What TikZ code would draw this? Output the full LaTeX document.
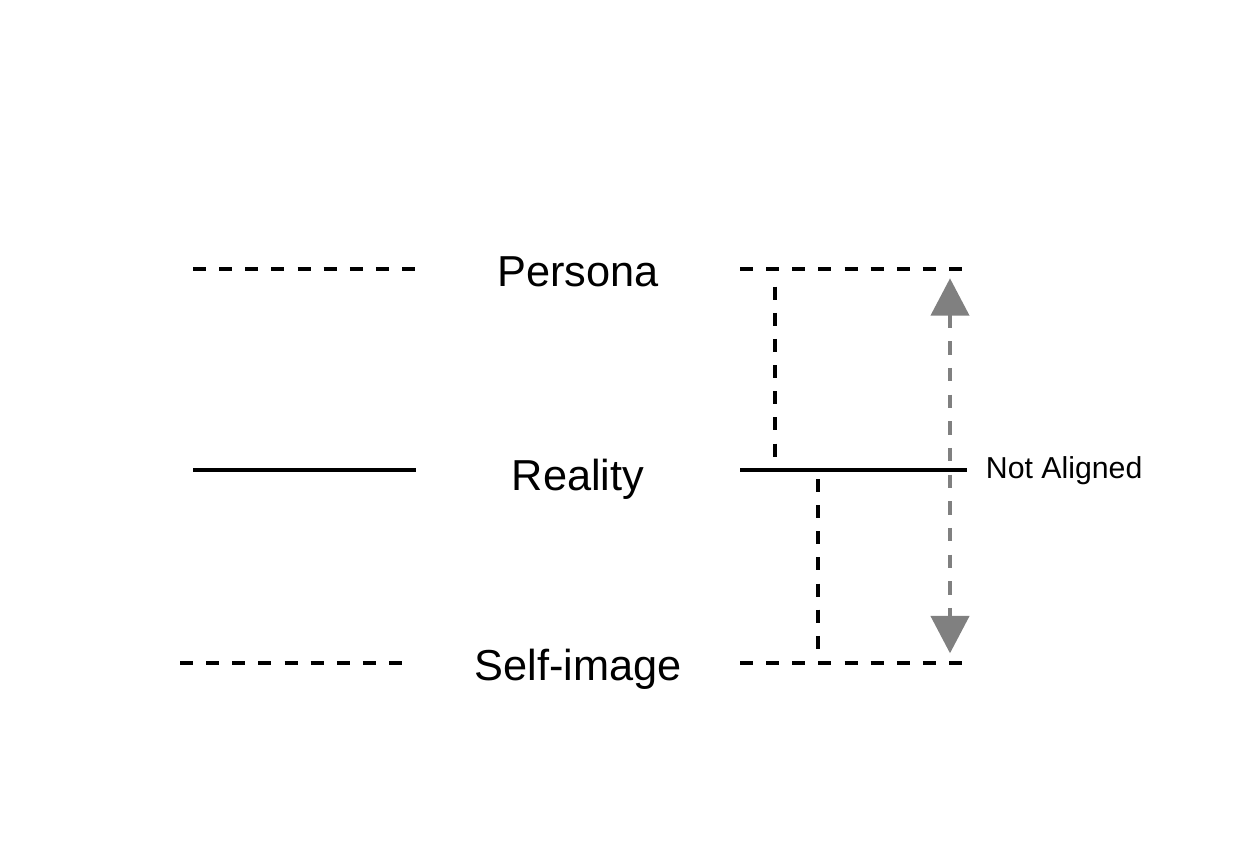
\documentclass[tikz,border=0pt]{standalone}
\usepackage{fontspec}
\setmainfont{Liberation Sans}
\usetikzlibrary{arrows.meta}
\definecolor{arrowgray}{HTML}{808080}
\tikzset{
  lvl/.style={line width=3pt},
  lvldash/.style={line width=3pt, dash pattern=on 9.8pt off 9.8pt},
  biglabel/.style={font=\fontsize{32.5}{38}\selectfont, anchor=base, inner sep=0pt},
  smalllabel/.style={font=\fontsize{22.7}{27}\selectfont, anchor=base west, inner sep=0pt},
  gaparrow/.style={line width=3.2pt, color=arrowgray, dash pattern=on 10pt off 10pt,
    {Triangle[length=28pt,width=28.5pt]}-{Triangle[length=28pt,width=28.5pt]}}
}
\begin{document}
\begin{tikzpicture}[x=0.75pt,y=-0.75pt]
\useasboundingbox (0,0) rectangle (1233,860);
% coordinates
\coordinate (pL1) at (193,269.3);
\coordinate (pL2) at (416,269.3);
\coordinate (rL1) at (193,470);
\coordinate (rL2) at (416,470);
\coordinate (sL1) at (180,663);
\coordinate (sL2) at (403,663);
\coordinate (pR1) at (740,269.3);
\coordinate (pR2) at (963,269.3);
\coordinate (rR1) at (740,470);
\coordinate (rR2) at (967,470);
\coordinate (sR1) at (740,663);
\coordinate (sR2) at (963,663);
\coordinate (v1a) at (775,286.7);
\coordinate (v1b) at (775,458);
\coordinate (v2a) at (818.3,479);
\coordinate (v2b) at (818.3,651);
\coordinate (ga) at (950,278.3);
\coordinate (gb) at (950,653.3);
% labels
\node[biglabel] (persona) at (578,286.7) {Persona};
\node[biglabel] (reality) at (578,490) {Reality};
\node[biglabel] (selfimage) at (578,680) {Self-image};
\node[smalllabel] (notaligned) at (985.7,478.3) {Not Aligned};
% left lines
\draw[lvldash] (pL1) -- (pL2);
\draw[lvl] (rL1) -- (rL2);
\draw[lvldash] (sL1) -- (sL2);
% right lines
\draw[lvldash] (pR1) -- (pR2);
\draw[lvl] (rR1) -- (rR2);
\draw[lvldash] (sR1) -- (sR2);
\draw[lvldash] (v1a) -- (v1b);
\draw[lvldash] (v2a) -- (v2b);
% gap arrow
\draw[gaparrow] (ga) -- (gb);
\end{tikzpicture}
\end{document}
